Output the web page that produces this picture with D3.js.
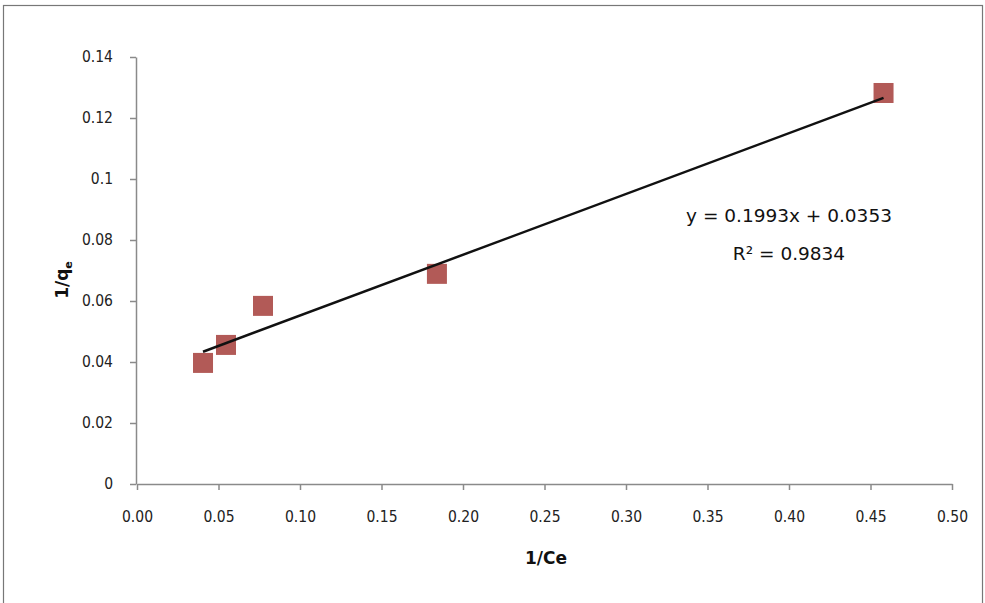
<!DOCTYPE html>
<html><head><meta charset="utf-8">
<script src="https://cdn.jsdelivr.net/npm/d3@7"></script>
<style>body{margin:0;background:#fff}</style>
</head><body>
<svg id="c" width="985" height="603"></svg>
<script>
const xValues = [0.0405, 0.0546, 0.0773, 0.184, 0.458];
const yValues = [0.0397, 0.0456, 0.0584, 0.0689, 0.1282];
const xTicks = [0,0.05,0.10,0.15,0.20,0.25,0.30,0.35,0.40,0.45,0.50];
const yTicks = [0,0.02,0.04,0.06,0.08,0.1,0.12,0.14];
const slope = 0.1993, intercept = 0.0353;
const eqText = "y = 0.1993x + 0.0353", r2Text = "R² = 0.9834";

const svg = d3.select("#c");
svg.append("rect").attr("x",3.5).attr("y",5.5).attr("width",979).attr("height",620)
  .attr("fill","none").attr("stroke","#777").attr("stroke-width",1.2);

const x = d3.scaleLinear().domain([0,0.5]).range([137,952]);
const y = d3.scaleLinear().domain([0,0.14]).range([484,57]);
const font = "DejaVu Sans, Verdana, sans-serif";
const tickFont = "'DejaVu Sans Condensed', 'DejaVu Sans', sans-serif";

const xa = svg.append("g").attr("transform","translate(0,484)")
  .call(d3.axisBottom(x).tickValues(xTicks).tickFormat(d3.format(".2f")).tickSizeInner(6).tickSizeOuter(0).tickPadding(21));
const ya = svg.append("g").attr("transform","translate(136,0)")
  .call(d3.axisLeft(y).tickValues(yTicks).tickFormat(d=>d===0?"0":String(+d.toFixed(2))).tickSizeInner(6).tickSizeOuter(0).tickPadding(17));
[xa,ya].forEach(a=>{
  a.selectAll("path,line").attr("stroke","#8a8a8a").attr("stroke-width",1.5);
  a.selectAll("text").attr("font-family",tickFont).attr("font-size",15.5).attr("fill","#222");
});

const pts = xValues.map((v,i)=>[v,yValues[i]]);
const s = 20;
svg.append("g").selectAll("rect").data(pts).join("rect")
  .attr("x",d=>x(d[0])-s/2).attr("y",d=>y(d[1])-s/2).attr("width",s).attr("height",s)
  .attr("fill","#b25a57");

const x0 = d3.min(xValues), x1 = d3.max(xValues);
svg.append("line").attr("x1",x(x0)).attr("y1",y(slope*x0+intercept))
  .attr("x2",x(x1)).attr("y2",y(slope*x1+intercept))
  .attr("stroke","#111").attr("stroke-width",2.5);

svg.append("text").attr("x",789).attr("y",222).attr("text-anchor","middle")
  .attr("font-family",font).attr("font-size",18.5).attr("fill","#111").text(eqText);
svg.append("text").attr("x",789).attr("y",260).attr("text-anchor","middle")
  .attr("font-family",font).attr("font-size",18.5).attr("fill","#111").text(r2Text);

const yt = svg.append("text").attr("transform","translate(68,280) rotate(-90)").attr("text-anchor","middle")
  .attr("font-family",font).attr("font-size",17).attr("font-weight","bold").attr("fill","#111");
yt.append("tspan").text("1/q");
yt.append("tspan").attr("font-size",11).attr("dy",4).text("e");

svg.append("text").attr("x",546).attr("y",564).attr("text-anchor","middle")
  .attr("font-family",font).attr("font-size",17).attr("font-weight","bold").attr("fill","#111").text("1/Ce");
</script>
</body></html>
